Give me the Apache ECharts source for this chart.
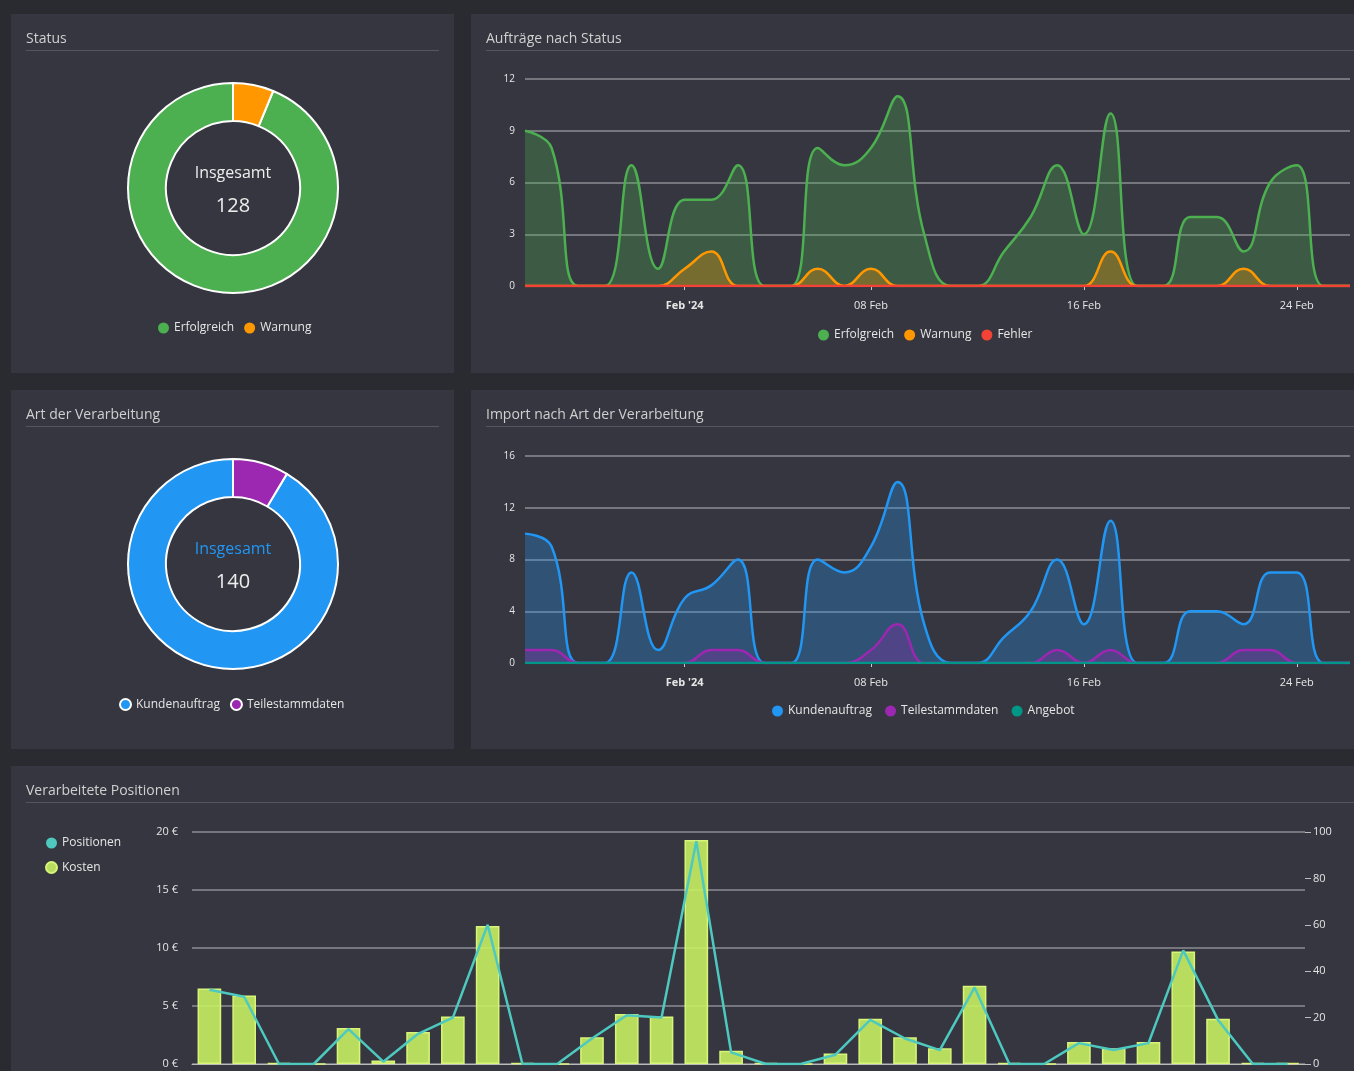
<!DOCTYPE html>
<html><head><meta charset="utf-8">
<script src="https://cdn.jsdelivr.net/npm/echarts@6/dist/echarts.min.js"></script>
<style>html,body{margin:0;padding:0;background:#2a2b31;}#c{width:1354px;height:1071px;}</style>
</head><body><div id="c"></div>
<script>
const days = ["26 Jan","27 Jan","28 Jan","29 Jan","30 Jan","31 Jan","01 Feb","02 Feb","03 Feb","04 Feb","05 Feb","06 Feb","07 Feb","08 Feb","09 Feb","10 Feb","11 Feb","12 Feb","13 Feb","14 Feb","15 Feb","16 Feb","17 Feb","18 Feb","19 Feb","20 Feb","21 Feb","22 Feb","23 Feb","24 Feb","25 Feb","26 Feb"];
const tickIdx = [6,13,21,29];
const tickLabels = ["Feb '24","08 Feb","16 Feb","24 Feb"];
const erfolgreich = [9,8,0,0,7,1,5,5,7,0,0,8,7,8,11,3,0,0,2,4,7,3,10,0,0,4,4,2,6,7,0,0];
const warnung     = [0,0,0,0,0,0,1,2,0,0,0,1,0,1,0,0,0,0,0,0,0,0,2,0,0,0,0,1,0,0,0,0];
const fehler      = [0,0,0,0,0,0,0,0,0,0,0,0,0,0,0,0,0,0,0,0,0,0,0,0,0,0,0,0,0,0,0,0];
const kundenauftrag = [10,9,0,0,7,1,5,6,8,0,0,8,7,9,14,3,0,0,2,4,8,3,11,0,0,4,4,3,7,7,0,0];
const teilestamm    = [1,1,0,0,0,0,0,1,1,0,0,0,0,1,3,0,0,0,0,0,1,0,1,0,0,0,0,1,1,0,0,0];
const angebot       = [0,0,0,0,0,0,0,0,0,0,0,0,0,0,0,0,0,0,0,0,0,0,0,0,0,0,0,0,0,0,0,0];
const statusNames = ["Erfolgreich","Warnung"];
const statusValues = [120,8];
const artNames = ["Kundenauftrag","Teilestammdaten"];
const artValues = [128,12];
const kosten = [6.5,5.9,0.1,0,3.1,0.3,2.75,4.1,11.9,0.1,0,2.3,4.3,4.1,19.3,1.15,0.1,0,0.9,3.9,2.3,1.35,6.75,0.1,0,1.9,1.35,1.9,9.7,3.9,0.1,0.1];
const positionen = [32,29,0,0,15,1,13,20,60,0,0,11,21,20,96,5,0,0,4,19,11,6,33,0,0,9,6,9,49,19,0,0];

const FONT = "'Open Sans', sans-serif";
const TXT = '#e6e6e6';
const chart = echarts.init(document.getElementById('c'));

function panel(x,y,w,h,title){
  return [
    {type:'rect',shape:{x,y,width:w,height:h},style:{fill:'#35363f'},z:-10},
    {type:'text',x:x+15,y:y+18,style:{text:title,fill:'#d0d0d0',font:'14px '+FONT},z:-9},
    {type:'rect',shape:{x:x+15,y:y+36,width:Math.min(w-30,415+ (w>500?w:0)),height:1},style:{fill:'#55565e'},z:-9}
  ];
}
const graphics = [].concat(
  panel(11,14,443,359,'Status'),
  panel(471,14,900,359,'Aufträge nach Status'),
  panel(11,390,443,359,'Art der Verarbeitung'),
  panel(471,390,900,359,'Import nach Art der Verarbeitung'),
  panel(11,766,1360,320,'Verarbeitete Positionen'),
  [
   {type:'text',x:233,y:173,style:{text:'Insgesamt',fill:'#eeeeee',font:'16px '+FONT,align:'center',verticalAlign:'middle'}},
   {type:'text',x:233,y:206,style:{text:String(statusValues.reduce((a,b)=>a+b,0)),fill:'#eeeeee',font:'20px '+FONT,align:'center',verticalAlign:'middle'}},
   {type:'text',x:233,y:549,style:{text:'Insgesamt',fill:'#2196f3',font:'16px '+FONT,align:'center',verticalAlign:'middle'}},
   {type:'text',x:233,y:582,style:{text:String(artValues.reduce((a,b)=>a+b,0)),fill:'#eeeeee',font:'20px '+FONT,align:'center',verticalAlign:'middle'}}
  ]
);

function areaX(gi){
  return {type:'category',gridIndex:gi,data:days,boundaryGap:false,
    axisLine:{show:false},
    axisTick:{show:true,interval:(i)=>tickIdx.includes(i),lineStyle:{color:'#ccc'},length:4},
    axisLabel:{interval:(i)=>tickIdx.includes(i),color:TXT,fontSize:11,fontFamily:FONT,margin:14,
      formatter:(v,i)=>{const k=tickIdx.indexOf(i);return k===0?'{b|'+tickLabels[k]+'}':(k>=0?tickLabels[k]:'');},
      rich:{b:{fontWeight:'bold',color:TXT,fontSize:11,fontFamily:FONT}}}};
}
function areaY(gi,max,interval){
  return {type:'value',gridIndex:gi,min:0,max,interval,
    axisLabel:{color:TXT,fontSize:10,fontFamily:FONT,margin:10},
    splitLine:{lineStyle:{color:'#8d8e94',width:1.5}}};
}
function areaSeries(name,data,color,gi,z){
  return {name,type:'line',xAxisIndex:gi,yAxisIndex:gi,data,smooth:0.45,symbol:'none',z,
    lineStyle:{color,width:2.5},itemStyle:{color},areaStyle:{color,opacity:0.3}};
}
const legendBase = {textStyle:{color:TXT,fontSize:12,fontFamily:FONT},icon:'circle',itemWidth:11,itemHeight:11,itemGap:10};

chart.setOption({
  backgroundColor:'#2a2b31',
  animation:false,
  graphic:graphics,
  grid:[
    {left:525,top:79,width:825,height:207},
    {left:525,top:456,width:825,height:207},
    {left:192,top:832,right:49,height:232}
  ],
  xAxis:[areaX(0),areaX(1),
    {type:'category',gridIndex:2,data:days,axisLine:{lineStyle:{color:'#bbb'}},axisTick:{show:false},axisLabel:{show:false}}],
  yAxis:[areaY(0,12,3),areaY(1,16,4),
    {type:'value',gridIndex:2,min:0,max:20,interval:5,axisLabel:{color:TXT,fontSize:11,fontFamily:FONT,formatter:'{value} €',margin:14},splitLine:{lineStyle:{color:'#8d8e94',width:1.5}}},
    {type:'value',gridIndex:2,min:0,max:100,interval:20,position:'right',axisLabel:{color:TXT,fontSize:11,fontFamily:FONT,margin:8},axisTick:{show:true,length:6,lineStyle:{color:'#bbb'}},axisLine:{show:false},splitLine:{show:false}}],
  legend:[
    Object.assign({},legendBase,{data:statusNames,left:'center',top:317,left:153}),
    Object.assign({},legendBase,{data:['Erfolgreich','Warnung','Fehler'],top:324,left:813}),
    Object.assign({},legendBase,{data:artNames,top:693,left:114}),
    Object.assign({},legendBase,{data:['Kundenauftrag ','Teilestammdaten ','Angebot'],top:700,left:767}),
    Object.assign({},legendBase,{data:['Positionen','Kosten'],orient:'vertical',left:40,top:832,itemGap:12})
  ],
  series:[
    {type:'pie',center:[233,188],radius:[67,105],startAngle:90,clockwise:false,label:{show:false},labelLine:{show:false},
      itemStyle:{borderColor:'#ffffff',borderWidth:2},
      data:statusNames.map((n,i)=>({name:n,value:statusValues[i],itemStyle:{color:['#4caf50','#ff9800'][i]}}))},
    {type:'pie',center:[233,564],radius:[67,105],startAngle:90,clockwise:false,label:{show:false},labelLine:{show:false},
      itemStyle:{borderColor:'#ffffff',borderWidth:2},
      data:artNames.map((n,i)=>({name:n,value:artValues[i],itemStyle:{color:['#2196f3','#9c27b0'][i]}}))},
    areaSeries('Erfolgreich',erfolgreich,'#4caf50',0,2),
    areaSeries('Warnung',warnung,'#ff9800',0,3),
    areaSeries('Fehler',fehler,'#f44336',0,4),
    areaSeries('Kundenauftrag ',kundenauftrag,'#2196f3',1,2),
    areaSeries('Teilestammdaten ',teilestamm,'#9c27b0',1,3),
    areaSeries('Angebot',angebot,'#009688',1,4),
    {name:'Kosten',type:'bar',xAxisIndex:2,yAxisIndex:2,data:kosten,barWidth:'68%',
      itemStyle:{color:'rgba(198,240,98,0.9)',borderColor:'#d8f57a',borderWidth:1.5}},
    {name:'Positionen',type:'line',xAxisIndex:2,yAxisIndex:3,data:positionen,symbol:'none',z:5,
      lineStyle:{color:'#4dc9c0',width:2.5},itemStyle:{color:'#4dc9c0'}}
  ]
});
</script></body></html>
